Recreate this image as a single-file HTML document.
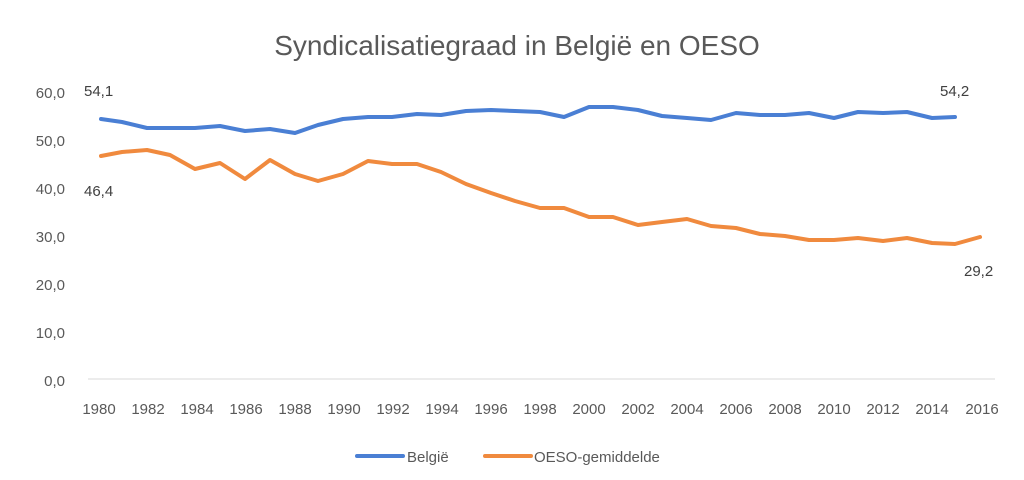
<!DOCTYPE html>
<html><head><meta charset="utf-8"><style>
html,body{margin:0;padding:0;background:#fff;}
svg{display:block;font-family:"Liberation Sans",sans-serif;}
</style></head><body>
<svg width="1024" height="480" viewBox="0 0 1024 480" xmlns="http://www.w3.org/2000/svg">
<rect width="1024" height="480" fill="#fff"/>
<text x="517" y="55" font-size="28" fill="#595959" text-anchor="middle">Syndicalisatiegraad in België en OESO</text>
<g font-size="15" fill="#595959" text-anchor="end">
<text x="65" y="98">60,0</text>
<text x="65" y="146">50,0</text>
<text x="65" y="194">40,0</text>
<text x="65" y="242">30,0</text>
<text x="65" y="290">20,0</text>
<text x="65" y="338">10,0</text>
<text x="65" y="386">0,0</text>
</g>
<line x1="88" y1="379" x2="995" y2="379" stroke="#d9d9d9" stroke-width="1"/>
<g font-size="15" fill="#595959" text-anchor="middle">
<text x="99" y="414">1980</text><text x="148" y="414">1982</text><text x="197" y="414">1984</text>
<text x="246" y="414">1986</text><text x="295" y="414">1988</text><text x="344" y="414">1990</text>
<text x="393" y="414">1992</text><text x="442" y="414">1994</text><text x="491" y="414">1996</text>
<text x="540" y="414">1998</text><text x="589" y="414">2000</text><text x="638" y="414">2002</text>
<text x="687" y="414">2004</text><text x="736" y="414">2006</text><text x="785" y="414">2008</text>
<text x="834" y="414">2010</text><text x="883" y="414">2012</text><text x="932" y="414">2014</text>
<text x="982" y="414">2016</text>
</g>
<polyline fill="none" stroke="#4a7fd4" stroke-width="4" stroke-linejoin="round" stroke-linecap="round" points="101,119 122,122 147,128 170,128 195,128 220,126 245,131 270,129 295,133 318,125 343,119 368,117 392,117 417,114 441,115 466,111 491,110 515,111 540,112 564,117 589,107 613,107 638,110 662,116 687,118 711,120 736,113 760,115 785,115 809,113 834,118 858,112 883,113 907,112 932,118 955,117"/>
<polyline fill="none" stroke="#f08a3e" stroke-width="4" stroke-linejoin="round" stroke-linecap="round" points="101,156 122,152 147,150 170,155 195,169 220,163 245,179 270,160 295,174 318,181 343,174 368,161 392,164 417,164 441,172 466,184 491,193 515,201 540,208 564,208 589,217 613,217 638,225 662,222 687,219 711,226 736,228 760,234 785,236 809,240 834,240 858,238 883,241 907,238 932,243 955,244 980,237"/>
<g font-size="15" fill="#404040">
<text x="84" y="96">54,1</text>
<text x="84" y="196">46,4</text>
<text x="940" y="96">54,2</text>
<text x="964" y="276">29,2</text>
</g>
<line x1="357" y1="456" x2="403" y2="456" stroke="#4a7fd4" stroke-width="4" stroke-linecap="round"/>
<text x="407" y="462" font-size="15" fill="#595959">België</text>
<line x1="485" y1="456" x2="531" y2="456" stroke="#f08a3e" stroke-width="4" stroke-linecap="round"/>
<text x="534" y="462" font-size="15" fill="#595959">OESO-gemiddelde</text>
</svg>
</body></html>
